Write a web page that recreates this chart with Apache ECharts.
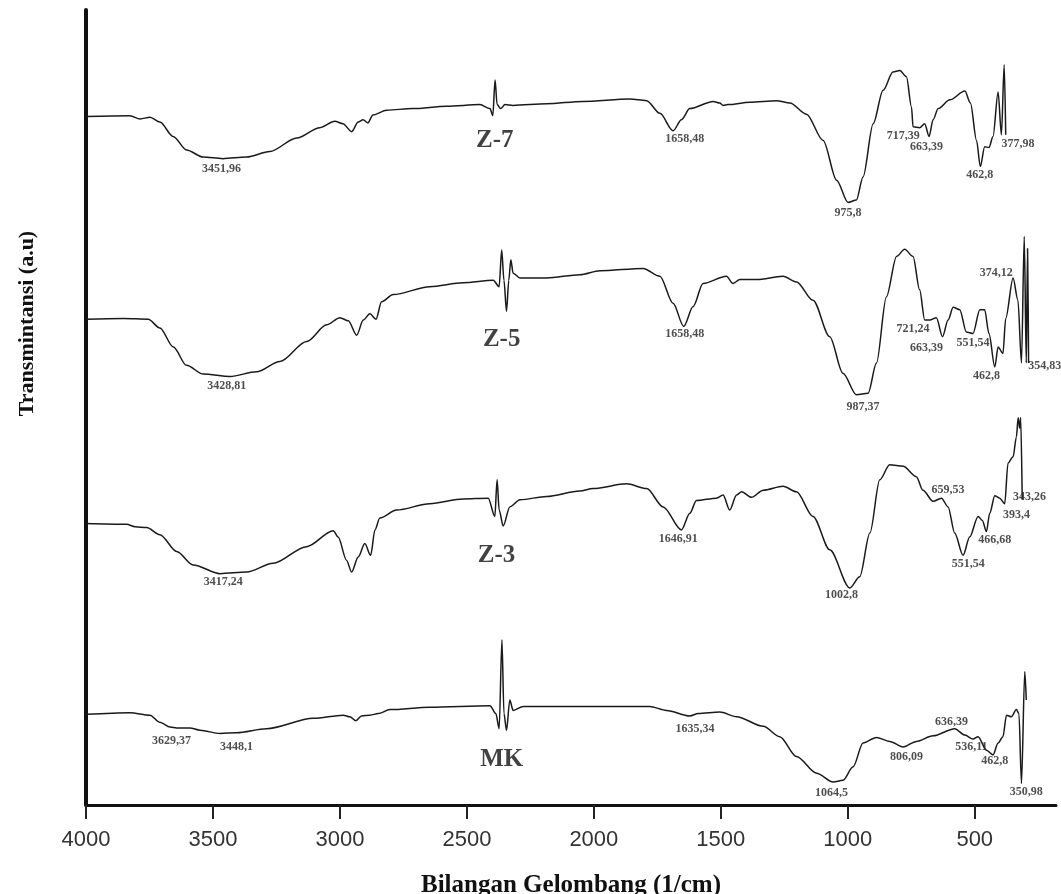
<!DOCTYPE html>
<html>
<head>
<meta charset="utf-8">
<script src="https://cdn.jsdelivr.net/npm/echarts@6/dist/echarts.min.js"></script>
<style>
  html, body { margin: 0; padding: 0; background: #fff; }
  #chart { width: 1061px; height: 894px; }
</style>
</head>
<body>
<div id="chart"></div>
<script>
// FTIR spectra, stacked with offsets: [wavenumber (1/cm), transmittance (a.u.)]
var z7 = [[4000,86.6],[3827,86.7],[3787,86.3],[3748,86.5],[3709,85.9],[3657,84.1],[3604,82.4],[3539,81.5],[3461,81.3],[3367,81.5],[3276,82.2],[3170,83.9],[3079,85.2],[3020,86.0],[2988,85.7],[2954,84.7],[2928,85.9],[2909,86.2],[2890,85.8],[2870,86.8],[2816,87.4],[2713,87.6],[2580,87.9],[2449,88.1],[2409,87.6],[2398,86.7],[2389,91.2],[2381,88.1],[2367,87.6],[2350,88.1],[2319,88.0],[2186,88.2],[2043,88.5],[1858,88.8],[1792,88.6],[1740,87.0],[1688,84.8],[1655,86.2],[1622,87.6],[1530,88.5],[1504,88.3],[1491,88.0],[1471,88.1],[1386,88.4],[1281,88.6],[1228,88.3],[1163,86.9],[1097,83.6],[1044,78.6],[999,75.8],[966,76.1],[940,79.0],[900,85.7],[861,89.9],[822,92.2],[795,92.4],[769,91.6],[749,87.8],[743,85.3],[717,85.2],[697,85.7],[680,84.1],[664,86.2],[644,87.6],[598,88.7],[539,89.8],[517,88.3],[493,83.6],[478,80.3],[461,82.8],[444,82.7],[428,84.1],[408,89.7],[395,84.3],[384,93.1],[378,84.3]];

var z5 = [[4000,61.1],[3853,61.2],[3755,61.1],[3709,60.0],[3656,57.6],[3604,55.3],[3538,54.2],[3433,53.9],[3328,54.5],[3236,55.8],[3131,58.3],[3052,60.4],[3000,61.3],[2967,60.9],[2934,59.1],[2908,61.0],[2882,61.8],[2858,61.1],[2836,63.3],[2790,64.2],[2646,65.2],[2515,65.7],[2396,66.0],[2373,65.2],[2363,69.8],[2354,66.0],[2344,62.1],[2335,66.0],[2327,68.6],[2318,66.9],[2291,66.3],[2186,66.3],[2055,66.7],[1976,67.2],[1806,67.5],[1740,66.5],[1688,63.1],[1646,60.2],[1609,62.7],[1570,65.6],[1478,66.5],[1452,65.6],[1425,66.1],[1359,66.1],[1255,66.5],[1202,65.8],[1137,63.5],[1071,58.9],[1019,54.3],[966,51.6],[920,51.8],[887,55.6],[848,63.9],[808,69.0],[776,69.9],[743,69.0],[717,64.8],[697,61.0],[677,61.0],[651,61.3],[627,58.9],[605,61.0],[585,62.6],[559,62.3],[533,59.5],[507,59.3],[480,62.3],[461,62.3],[444,59.3],[421,55.1],[408,57.6],[389,56.8],[378,61.2],[349,66.3],[330,63.5],[316,55.6],[305,71.5],[297,55.6],[292,70.0],[288,55.6]];

var z3 = [[4000,35.4],[3840,35.3],[3807,35.0],[3761,34.9],[3709,34.0],[3643,31.9],[3578,30.2],[3472,29.1],[3367,29.3],[3263,30.4],[3131,32.5],[3026,34.5],[3007,33.7],[2974,30.8],[2954,29.3],[2928,31.2],[2902,32.9],[2879,31.4],[2862,34.6],[2843,36.1],[2777,37.1],[2646,37.9],[2515,38.5],[2416,38.6],[2390,36.3],[2381,40.9],[2373,37.1],[2357,35.1],[2331,37.5],[2291,38.4],[2186,38.8],[2055,39.5],[2003,39.8],[1871,40.4],[1792,39.8],[1727,37.5],[1655,34.6],[1622,36.7],[1596,38.3],[1517,38.6],[1491,39.0],[1465,37.1],[1438,39.0],[1418,39.4],[1379,38.7],[1333,39.6],[1255,40.1],[1202,39.4],[1137,36.3],[1071,32.1],[992,27.3],[953,28.7],[913,34.2],[874,40.9],[835,42.8],[782,42.6],[730,41.3],[704,39.6],[664,38.2],[631,38.6],[605,37.5],[579,34.2],[546,31.4],[520,33.7],[487,36.3],[470,35.8],[454,34.4],[441,36.7],[421,38.9],[402,38.6],[382,37.9],[369,43.0],[349,43.8],[336,46.3],[329,48.7],[323,47.4],[319,48.7],[313,38.4]];

var mk = [[4000,11.4],[3827,11.6],[3748,11.3],[3709,10.4],[3669,9.8],[3643,9.7],[3591,9.7],[3551,9.4],[3472,9.0],[3407,9.1],[3289,9.6],[3105,10.9],[2987,11.3],[2961,11.1],[2937,10.6],[2915,11.2],[2882,11.3],[2849,11.5],[2803,12.0],[2646,12.3],[2409,12.5],[2386,11.5],[2373,9.6],[2362,20.8],[2354,11.5],[2344,9.4],[2331,13.2],[2318,11.9],[2278,12.4],[2055,12.4],[1780,12.4],[1714,11.9],[1622,11.2],[1589,11.5],[1504,11.7],[1438,11.1],[1333,9.9],[1268,8.6],[1202,6.1],[1123,4.0],[1058,2.9],[1019,3.1],[979,4.8],[940,7.8],[887,8.5],[835,8.0],[782,7.3],[730,8.0],[664,8.7],[579,9.6],[539,8.8],[507,8.3],[487,8.6],[454,6.9],[428,6.3],[408,7.8],[389,8.6],[375,11.3],[356,11.1],[336,12.0],[326,11.5],[316,2.7],[303,16.8],[297,13.2]];

// peak annotations: [wavenumber, value, text]
var peakLabels = [
  [3466,80.0,'3451,96'],[1642,83.8,'1658,48'],[999,74.5,'975,8'],[782,84.2,'717,39'],[690,82.8,'663,39'],[480,79.2,'462,8'],[330,83.2,'377,98'],
  [3446,52.7,'3428,81'],[1642,59.3,'1658,48'],[940,50.1,'987,37'],[743,59.9,'721,24'],[690,57.5,'663,39'],[507,58.1,'551,54'],[454,54.0,'462,8'],[415,66.9,'374,12'],[224,55.2,'354,83'],
  [3459,28.0,'3417,24'],[1668,33.5,'1646,91'],[1025,26.4,'1002,8'],[605,39.6,'659,53'],[526,30.3,'551,54'],[421,33.3,'466,68'],[336,36.5,'393,4'],[284,38.7,'343,26'],
  [3663,8.1,'3629,37'],[3407,7.3,'3448,1'],[1602,9.6,'1635,34'],[1064,1.5,'1064,5'],[769,6.1,'806,09'],[592,10.4,'636,39'],[513,7.3,'536,11'],[421,5.6,'462,8'],[297,1.7,'350,98']
];

// sample names: [wavenumber, value, text]
var sampleLabels = [[2390,83.6,'Z-7'],[2363,58.5,'Z-5'],[2383,31.4,'Z-3'],[2363,5.7,'MK']];

var xTicks = [4000, 3500, 3000, 2500, 2000, 1500, 1000, 500];

var chart = echarts.init(document.getElementById('chart'), null, { renderer: 'canvas' });

function spectrum(name, data) {
  return {
    name: name,
    type: 'line',
    data: data,
    showSymbol: false,
    silent: true,
    smooth: 0.3,
    smoothMonotone: 'x',
    lineStyle: { color: '#1a1a1a', width: 1.5 },
    z: 3
  };
}

chart.setOption({
  animation: false,
  backgroundColor: '#fff',
  grid: { left: 86, right: 5, top: 10, bottom: 89, outerBoundsMode: 'none' },
  xAxis: {
    type: 'value',
    min: 180,
    max: 4000,
    inverse: true,
    name: 'Bilangan Gelombang (1/cm)',
    nameLocation: 'middle',
    nameGap: 68,
    nameTextStyle: { fontFamily: 'Liberation Serif', fontWeight: 'bold', fontSize: 25, color: '#111' },
    axisLine: { show: true, onZero: false, lineStyle: { color: '#111', width: 3 } },
    axisTick: { show: true, length: 14, customValues: xTicks, lineStyle: { color: '#222', width: 2 } },
    axisLabel: {
      customValues: xTicks,
      margin: 24,
      fontFamily: 'Liberation Sans',
      fontSize: 22,
      color: '#333',
      formatter: function (v) { return String(v); }
    },
    splitLine: { show: false }
  },
  yAxis: {
    type: 'value',
    min: 0,
    max: 100,
    name: 'Transmintansi (a.u)',
    nameLocation: 'middle',
    nameRotate: 90,
    nameGap: 48,
    nameTextStyle: { fontFamily: 'Liberation Serif', fontWeight: 'bold', fontSize: 22, color: '#111', padding: [0, 0, 0, 168] },
    axisLine: { show: true, lineStyle: { color: '#111', width: 4 } },
    axisTick: { show: false },
    axisLabel: { show: false },
    splitLine: { show: false }
  },
  series: [
    spectrum('Z-7', z7),
    spectrum('Z-5', z5),
    spectrum('Z-3', z3),
    spectrum('MK', mk),
    {
      type: 'scatter',
      data: peakLabels,
      symbolSize: 0,
      silent: true,
      label: {
        show: true,
        position: 'inside',
        formatter: function (p) { return p.data[2]; },
        fontFamily: 'Liberation Serif',
        fontWeight: 'bold',
        fontSize: 12,
        color: '#222'
      },
      z: 4
    },
    {
      type: 'scatter',
      data: sampleLabels,
      symbolSize: 0,
      silent: true,
      label: {
        show: true,
        position: 'inside',
        formatter: function (p) { return p.data[2]; },
        fontFamily: 'Liberation Serif',
        fontWeight: 'bold',
        fontSize: 25,
        color: '#111'
      },
      z: 4
    }
  ]
});
</script>
</body>
</html>
